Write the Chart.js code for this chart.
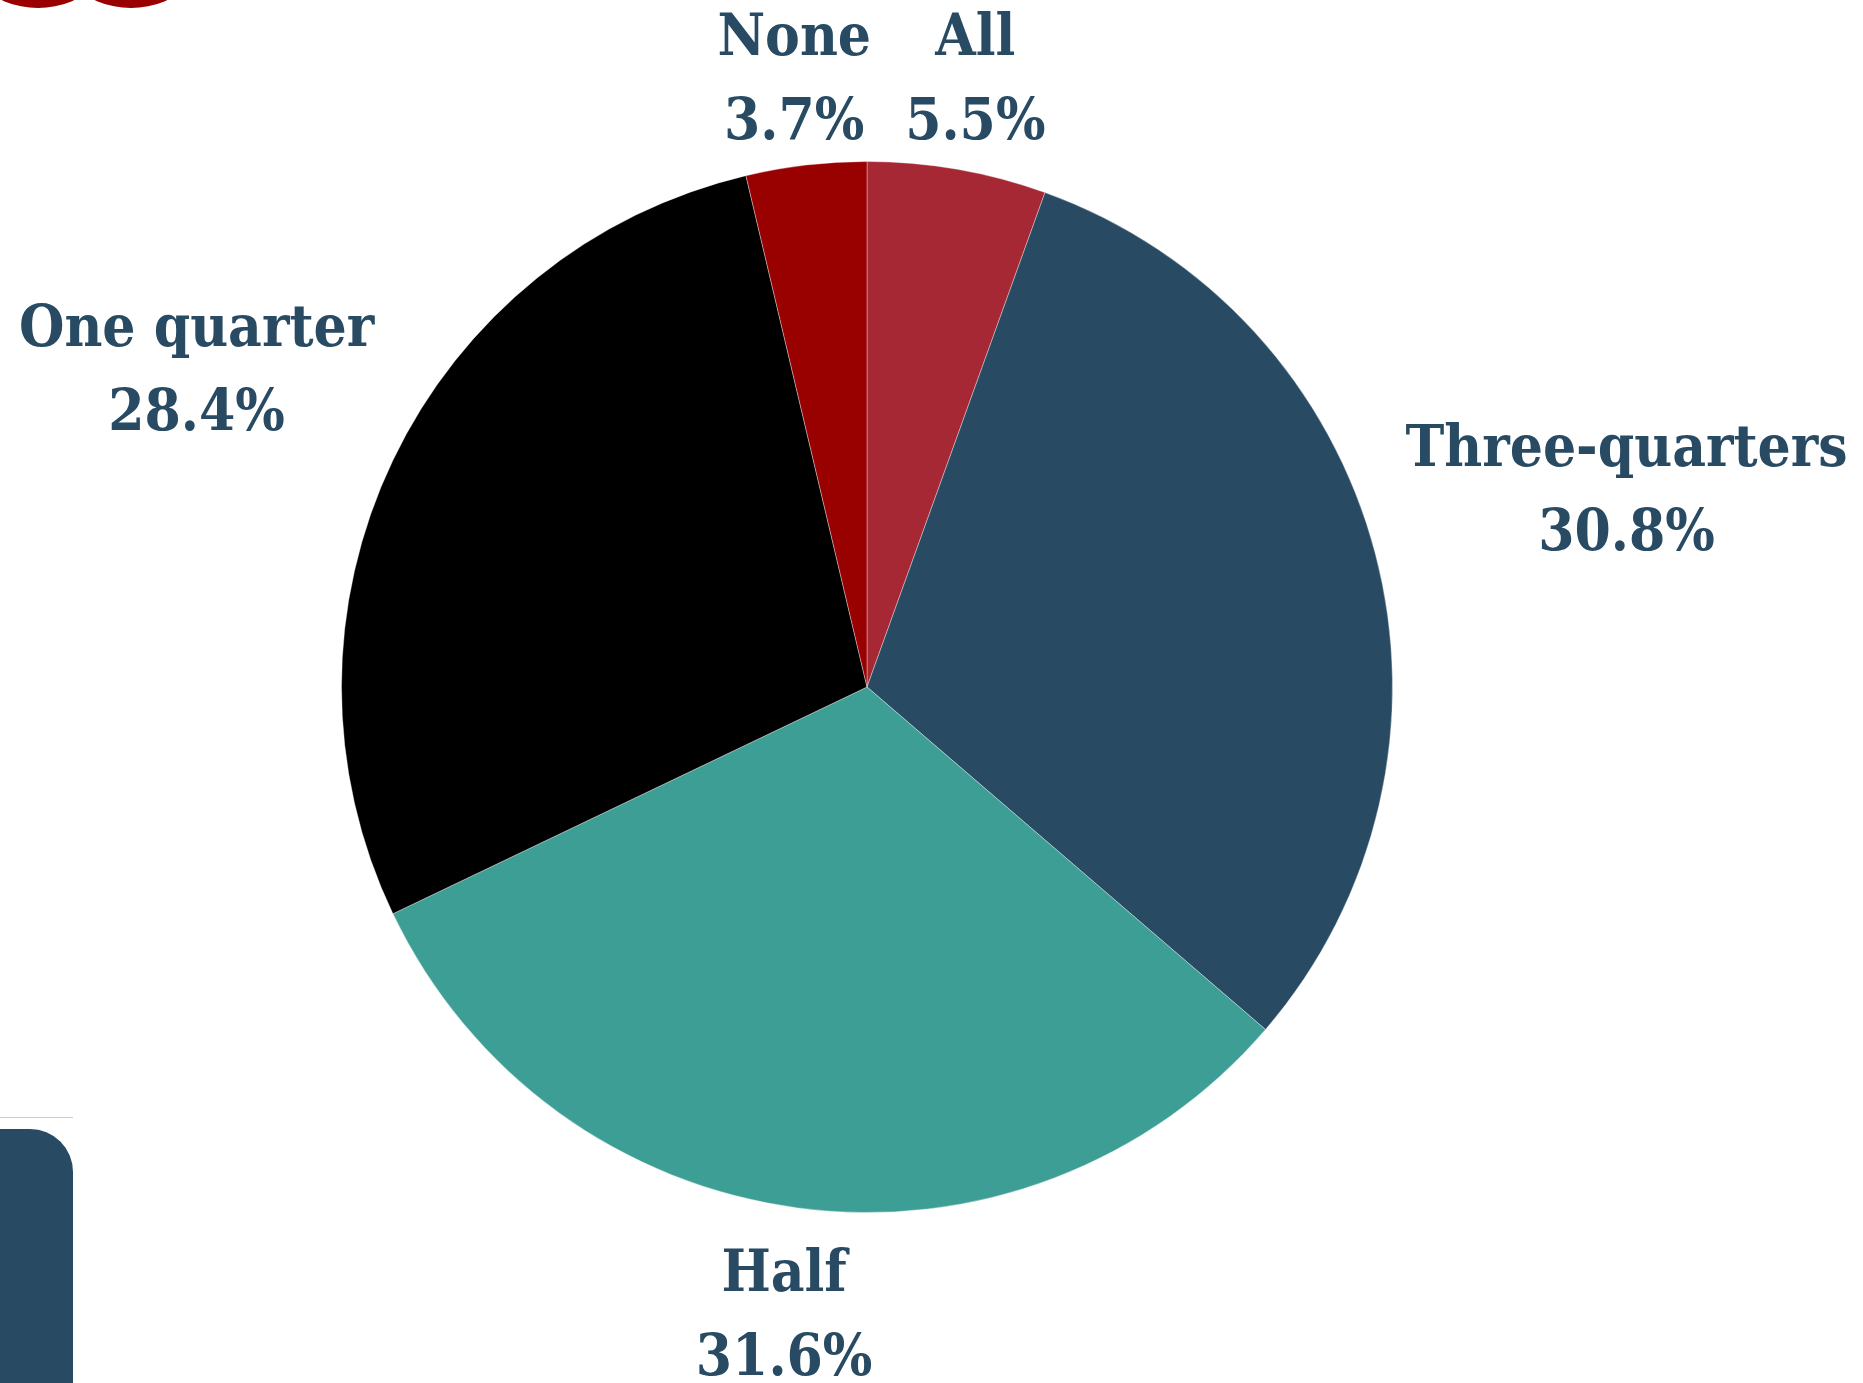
<!DOCTYPE html>
<html>
<head>
<meta charset="utf-8">
<script src="https://cdn.jsdelivr.net/npm/chart.js@4/dist/chart.umd.min.js"></script>
<style>
    html, body { margin: 0; padding: 0; background: #fff; overflow: hidden; }
    #wrap { position: relative; width: 1863px; height: 1383px; }
    #pie { position: absolute; left: 0; top: 0; }
    .blob { position: absolute; width: 174px; height: 174px; border-radius: 50%; background: #990000; top: -166px; }
    .rule { position: absolute; left: 0; top: 1117px; width: 73px; height: 1px; background: #cfcfcf; }
    .tab { position: absolute; left: -50px; top: 1129px; width: 123px; height: 300px; background: #284b63; border-radius: 0 43px 0 0; }
</style>
</head>
<body>
<div id="wrap">
    <div class="blob" style="left: -49px;"></div>
    <div class="blob" style="left: 44px;"></div>
    <div class="rule"></div>
    <div class="tab"></div>
    <canvas id="pie" width="1863" height="1383"></canvas>
</div>
<script>
// Share of answers, clockwise from 12 o'clock
const categories = ['All', 'Three-quarters', 'Half', 'One quarter', 'None'];
const shares = [5.5, 30.8, 31.6, 28.4, 3.7];
const sliceColors = ['#a62834', '#284b63', '#3c9e94', '#000000', '#990000'];

const textColor = '#284b63';
const labelFont = 'bold 58px "DejaVu Serif Condensed", "DejaVu Serif"';

// Labels sit outside each slice, pushed out along the slice's mid angle
const outsideLabels = {
    id: 'outsideLabels',
    afterDatasetsDraw: (chart) => {
        const ctx = chart.ctx;
        const meta = chart.getDatasetMeta(0);
        const gap = 84;      // baseline to baseline
        const capH = 43;
        ctx.save();
        ctx.font = labelFont;
        ctx.fillStyle = textColor;
        ctx.textAlign = 'center';
        ctx.textBaseline = 'alphabetic';

        meta.data.forEach((arc, i) => {
            const p = arc.getProps(['x', 'y', 'startAngle', 'endAngle', 'outerRadius'], true);
            const mid = (p.startAngle + p.endAngle) / 2;
            const dx = Math.cos(mid), dy = Math.sin(mid);
            const line1 = categories[i];
            const line2 = shares[i].toFixed(1) + '%';
            const w = Math.max(ctx.measureText(line1).width, ctx.measureText(line2).width);
            const h = capH + gap;

            // box just clear of the rim
            const push = Math.abs(dx) * w / 2 + Math.abs(dy) * h / 2;
            const dist = p.outerRadius + 30 + push;
            let cx = p.x + dx * dist;
            let cy = p.y + dy * dist;
            const top = Math.max(cy - h / 2, 12);
            cy = top + h / 2;
            cx = Math.min(cx, chart.width - w / 2 - 6);

            const y1 = cy - h / 2 + capH;
            ctx.fillText(line1, cx, y1);
            ctx.fillText(line2, cx, y1 + gap);
        });
        ctx.restore();
    }
};

new Chart(document.getElementById('pie'), {
    type: 'pie',
    data: {
        labels: categories,
        datasets: [{
            data: shares,
            backgroundColor: sliceColors,
            borderColor: 'rgba(255,255,255,0.35)',
            borderWidth: 1
        }]
    },
    options: {
        responsive: false,
        animation: false,
        layout: {
            padding: { left: 341, right: 470, top: 161, bottom: 170 }
        },
        plugins: {
            legend: { display: false },
            tooltip: { enabled: false }
        }
    },
    plugins: [outsideLabels]
});
</script>
</body>
</html>
